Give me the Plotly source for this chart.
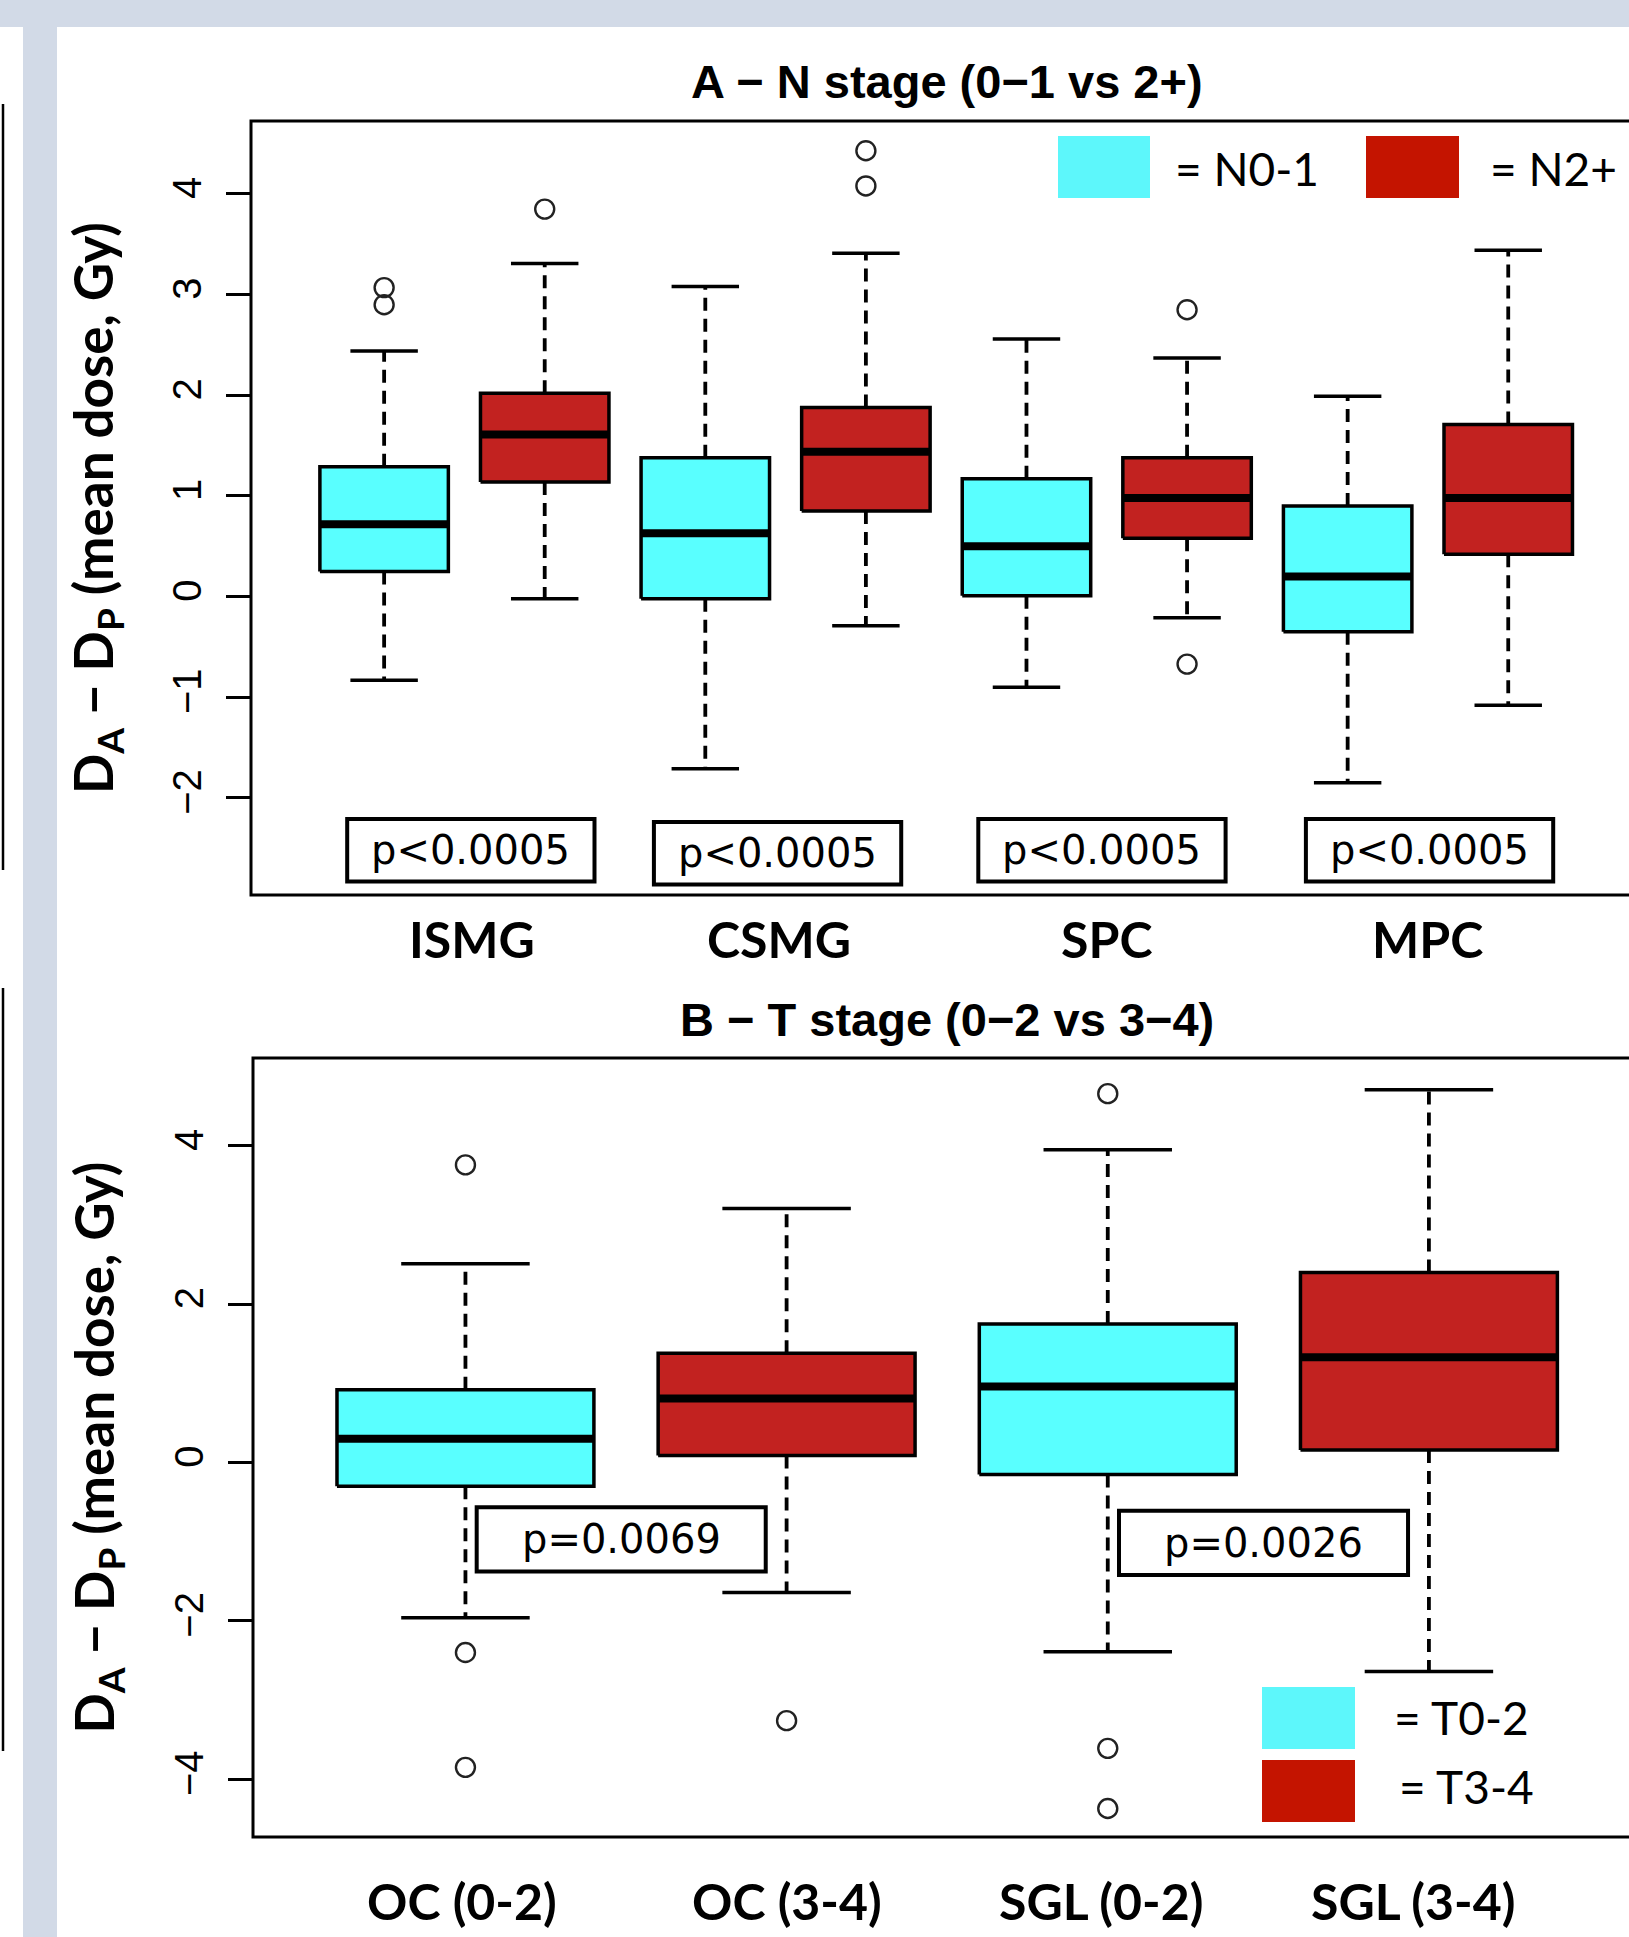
import plotly.graph_objects as go

W, H = 1629, 1937

# ---------------- Data ----------------
# Panel A: N stage (boxes in order ISMG N0-1, ISMG N2+, CSMG N0-1, CSMG N2+, SPC..., MPC...)
a_categories = ["ISMG", "CSMG", "SPC", "MPC"]
a_groups = ["N0-1", "N2+", "N0-1", "N2+", "N0-1", "N2+", "N0-1", "N2+"]
a_lower = [-0.83, -0.02, -1.71, -0.29, -0.90, -0.21, -1.85, -1.08]
a_q1 = [0.25, 1.14, -0.02, 0.85, 0.01, 0.58, -0.35, 0.42]
a_median = [0.72, 1.61, 0.63, 1.44, 0.50, 0.98, 0.20, 0.98]
a_q3 = [1.29, 2.02, 1.38, 1.88, 1.17, 1.38, 0.90, 1.71]
a_upper = [2.44, 3.31, 3.08, 3.41, 2.56, 2.37, 1.99, 3.44]
a_outliers = [[3.07, 2.90], [3.85], [], [4.43, 4.08], [], [2.85, -0.67], [], []]
a_pvalues = ["p<0.0005", "p<0.0005", "p<0.0005", "p<0.0005"]

# Panel B: T stage
b_categories = ["OC (0-2)", "OC (3-4)", "SGL (0-2)", "SGL (3-4)"]
b_groups = ["T0-2", "T3-4", "T0-2", "T3-4"]
b_lower = [-1.96, -1.64, -2.39, -2.64]
b_q1 = [-0.30, 0.09, -0.15, 0.16]
b_median = [0.30, 0.81, 0.96, 1.33]
b_q3 = [0.92, 1.38, 1.75, 2.40]
b_upper = [2.51, 3.21, 3.95, 4.71]
b_outliers = [[3.76, -2.40, -3.85], [-3.26], [4.66, -3.61, -4.37], []]
b_pvalues = ["p=0.0069", "p=0.0026"]

# ---------------- Styling ----------------
CYAN = "#59FFFF"
RED = "#C22220"
LEG_CYAN = "#5DF7FB"
LEG_RED = "#C41400"
fill_of = {"N0-1": CYAN, "N2+": RED, "T0-2": CYAN, "T3-4": RED}

def px_x(x):
    return x / W

def px_y(y):
    return 1 - y / H

fig = go.Figure()

def add_boxes(xa, ya, lower, q1, med, q3, upper, outliers, groups, half=0.4, cap=0.21):
    wx, wy, cx, cy, ox, oy = [], [], [], [], [], []
    for i in range(len(med)):
        p = i + 1
        # box
        fig.add_trace(go.Scatter(
            x=[p - half, p + half, p + half, p - half, p - half],
            y=[q1[i], q1[i], q3[i], q3[i], q1[i]],
            mode="lines", fill="toself", fillcolor=fill_of[groups[i]],
            line=dict(color="black", width=3.5), xaxis=xa, yaxis=ya,
            showlegend=False, hoverinfo="skip"))
        # median
        fig.add_trace(go.Scatter(
            x=[p - half, p + half], y=[med[i], med[i]], mode="lines",
            line=dict(color="black", width=8), xaxis=xa, yaxis=ya,
            showlegend=False, hoverinfo="skip"))
        wx += [p, p, None, p, p, None]
        wy += [q3[i], upper[i], None, q1[i], lower[i], None]
        cx += [p - cap, p + cap, None, p - cap, p + cap, None]
        cy += [upper[i], upper[i], None, lower[i], lower[i], None]
        for o in outliers[i]:
            ox.append(p)
            oy.append(o)
    fig.add_trace(go.Scatter(x=wx, y=wy, mode="lines",
                             line=dict(color="black", width=3.8, dash="13px,8px"),
                             xaxis=xa, yaxis=ya, showlegend=False, hoverinfo="skip"))
    fig.add_trace(go.Scatter(x=cx, y=cy, mode="lines",
                             line=dict(color="black", width=3.5),
                             xaxis=xa, yaxis=ya, showlegend=False, hoverinfo="skip"))
    fig.add_trace(go.Scatter(x=ox, y=oy, mode="markers",
                             marker=dict(symbol="circle-open", size=19,
                                         color="#222222", line=dict(width=2.4, color="#222222")),
                             xaxis=xa, yaxis=ya, showlegend=False, hoverinfo="skip"))

add_boxes("x", "y", a_lower, a_q1, a_median, a_q3, a_upper, a_outliers, a_groups, 0.4, 0.21)
add_boxes("x2", "y2", b_lower, b_q1, b_median, b_q3, b_upper, b_outliers, b_groups, 0.4, 0.2)

# ---------------- Layout geometry ----------------
A_left, A_top, A_bot = 251, 121, 895
B_left, B_top, B_bot = 253, 1058, 1837

tickfont = dict(family="Liberation Sans, Arial, sans-serif", size=40, color="black")
common_y = dict(showgrid=False, zeroline=False, showline=False, ticks="outside",
                ticklen=24, tickwidth=3, tickcolor="black", tickangle=-90,
                tickfont=tickfont, ticklabelstandoff=9)
common_x = dict(showgrid=False, zeroline=False, showline=False, showticklabels=False,
                ticks="")

fig.update_layout(
    width=W, height=H, margin=dict(l=0, r=0, t=0, b=0),
    paper_bgcolor="white", plot_bgcolor="white", showlegend=False,
    hovermode=False,
    xaxis=dict(domain=[px_x(A_left), 1.0], range=[0.171, 8.752], anchor="y", **common_x),
    yaxis=dict(domain=[px_y(A_bot), px_y(A_top)], range=[-2.964, 4.725], anchor="x",
               tickvals=[-2, -1, 0, 1, 2, 3, 4], **common_y),
    xaxis2=dict(domain=[px_x(B_left), 1.0], range=[0.3385, 4.623], anchor="y2", **common_x),
    yaxis2=dict(domain=[px_y(B_bot), px_y(B_top)], range=[-4.73, 5.11], anchor="x2",
                tickvals=[-4, -2, 0, 2, 4], **common_y),
)

shapes = []
annotations = []
BG = "#D2DAE7"
# slide background strips
shapes.append(dict(type="rect", xref="paper", yref="paper", x0=0, x1=1,
                   y0=px_y(27), y1=1, fillcolor=BG, line=dict(width=0), layer="below"))
shapes.append(dict(type="rect", xref="paper", yref="paper", x0=px_x(23), x1=px_x(57),
                   y0=0, y1=px_y(27), fillcolor=BG, line=dict(width=0), layer="below"))
shapes.append(dict(type="line", xref="paper", yref="paper", x0=px_x(3), x1=px_x(3),
                   y0=px_y(104), y1=px_y(870), line=dict(color="black", width=2.5)))
shapes.append(dict(type="line", xref="paper", yref="paper", x0=px_x(3), x1=px_x(3),
                   y0=px_y(988), y1=px_y(1751), line=dict(color="black", width=2.5)))

# plot frames (extend past right edge like the cropped original)
for left, top, bot in [(A_left, A_top, A_bot), (B_left, B_top, B_bot)]:
    shapes.append(dict(type="rect", xref="paper", yref="paper", x0=px_x(left), x1=1.05,
                       y0=px_y(bot), y1=px_y(top), line=dict(color="black", width=3),
                       fillcolor="rgba(0,0,0,0)"))

# titles
title_font = dict(family="Liberation Sans, Arial, sans-serif", size=47, color="black")
annotations.append(dict(text="<b>A − N stage (0−1 vs 2+)</b>", xref="paper", yref="paper",
                        x=px_x(947), y=px_y(81), showarrow=False, font=title_font,
                        xanchor="center", yanchor="middle"))
annotations.append(dict(text="<b>B − T stage (0−2 vs 3−4)</b>", xref="paper", yref="paper",
                        x=px_x(947), y=px_y(1020), showarrow=False, font=title_font,
                        xanchor="center", yanchor="middle"))

# y-axis titles
ytitle = "<b>D<sub>A</sub> − D<sub>P</sub> (mean dose, Gy)</b>"
yt_font = dict(family="Lato, sans-serif", size=53, color="black")
for cy in [(A_top + A_bot) / 2, (B_top + B_bot) / 2]:
    annotations.append(dict(text=ytitle, xref="paper", yref="paper", x=px_x(97), y=px_y(cy),
                            textangle=-90, showarrow=False, font=yt_font,
                            xanchor="center", yanchor="middle"))

# category labels
cat_font = dict(family="Lato, sans-serif", size=50, color="black")
a_label_x = [1.55, 3.46, 5.5, 7.5]
for lab, xv in zip(a_categories, a_label_x):
    annotations.append(dict(text="<b>%s</b>" % lab, xref="x", yref="paper", x=xv, y=px_y(939),
                            showarrow=False, font=cat_font, xanchor="center", yanchor="middle"))
b_label_x = [0.99, 2.0, 2.98, 3.95]
for lab, xv in zip(b_categories, b_label_x):
    annotations.append(dict(text="<b>%s</b>" % lab, xref="x2", yref="paper", x=xv, y=px_y(1901),
                            showarrow=False, font=cat_font, xanchor="center", yanchor="middle"))

# p-value boxes
p_font = dict(family="DejaVu Sans, sans-serif", size=40, color="black")
a_px = [1.54, 3.45, 5.47, 7.51]
a_py = [-2.52, -2.55, -2.52, -2.52]
for t, xc, yc in zip(a_pvalues, a_px, a_py):
    shapes.append(dict(type="rect", xref="x", yref="y", x0=xc - 0.77, x1=xc + 0.77,
                       y0=yc - 0.31, y1=yc + 0.31, line=dict(color="black", width=4),
                       fillcolor="white"))
    annotations.append(dict(text=t, xref="x", yref="y", x=xc, y=yc, showarrow=False,
                            font=p_font, xanchor="center", yanchor="middle"))
b_px = [1.485, 3.485]
b_py = [-0.97, -1.015]
for t, xc, yc in zip(b_pvalues, b_px, b_py):
    shapes.append(dict(type="rect", xref="x2", yref="y2", x0=xc - 0.45, x1=xc + 0.45,
                       y0=yc - 0.406, y1=yc + 0.406, line=dict(color="black", width=4),
                       fillcolor="white"))
    annotations.append(dict(text=t, xref="x2", yref="y2", x=xc, y=yc, showarrow=False,
                            font=p_font, xanchor="center", yanchor="middle"))

# legends
leg_font = dict(family="Lato, sans-serif", size=46, color="black")
legend_items = [
    # (x0, y0, x1, y1, color, text, text_x, text_y)
    (1058, 136, 1150, 198, LEG_CYAN, "= N0-1", 1173, 169),
    (1366, 136, 1459, 198, LEG_RED, "= N2+", 1488, 169),
    (1262, 1687, 1355, 1749, LEG_CYAN, "= T0-2", 1392, 1717),
    (1262, 1760, 1355, 1822, LEG_RED, "= T3-4", 1397, 1786),
]
for x0, y0, x1, y1, col, txt, tx, ty in legend_items:
    shapes.append(dict(type="rect", xref="paper", yref="paper", x0=px_x(x0), x1=px_x(x1),
                       y0=px_y(y1), y1=px_y(y0), fillcolor=col, line=dict(width=0)))
    annotations.append(dict(text=txt, xref="paper", yref="paper", x=px_x(tx), y=px_y(ty),
                            showarrow=False, font=leg_font, xanchor="left", yanchor="middle"))

fig.update_layout(shapes=shapes, annotations=annotations)
fig.write_html("out.html")
